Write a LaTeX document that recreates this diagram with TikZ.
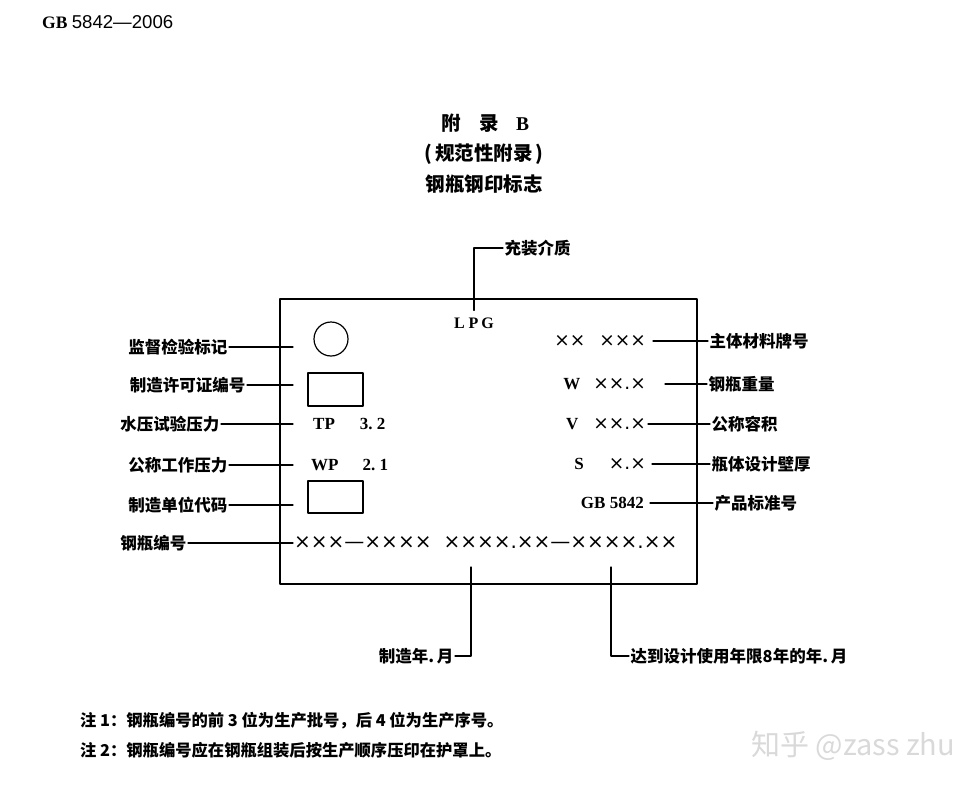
\documentclass[tikz,border=0pt]{standalone}
\usepackage{fontspec}
\setmainfont{Liberation Serif}
\newfontfamily\cjk{Noto Sans CJK SC}
\newfontfamily\xfont{DejaVu Sans}
\newfontfamily\hdsans{Liberation Sans}
\usetikzlibrary{positioning}

\tikzset{
  lbl/.style={font=\cjk\bfseries\fontsize{16.5}{18}\selectfont, inner sep=1.5pt},
  stamp/.style={font=\bfseries\fontsize{17}{18}\selectfont, inner sep=0pt},
  lead/.style={line width=1.1pt},
  note/.style={font=\cjk\bfseries\fontsize{16.3}{17}\selectfont, inner sep=0pt, anchor=west},
}
\newcommand{\xx}[1]{{\xfont\fontsize{18.5}{20}\selectfont #1}}

\begin{document}
\begin{tikzpicture}[x=1pt, y=-1pt, line cap=round, line join=round]
		\useasboundingbox (0,0) rectangle (980,787);
		\node[anchor=west, inner sep=0, font=\fontsize{17.5}{18}\selectfont] (std) at (42,22) {{\bfseries GB} {\hdsans\fontsize{18.6}{19}\selectfont 5842—2006}};
		% title
		\node[font=\cjk\bfseries\fontsize{19.5}{21}\selectfont] (app) at (485,123) {附\hspace{19pt}录\hspace{17pt}{\rmfamily\bfseries B}};
		\node[font=\cjk\bfseries\fontsize{19.5}{21}\selectfont] (kind) at (484,154) {(\,规范性附录\,)};
		\node[font=\cjk\bfseries\fontsize{19.5}{21}\selectfont] (ttl) at (484,184) {钢瓶钢印标志};
		% stamp area
		\draw[line width=1.2pt] (280,299) rectangle (697,584);
		\coordinate (lend) at (293,0);
		\coordinate (mfgtop) at (471,567);
		\coordinate (exptop) at (611,567);
		\node[stamp, font=\bfseries\fontsize{16}{18}\selectfont] (lpg) at (474,323) {L\hspace{4pt}P\hspace{3pt}G};
		\node[lbl, anchor=west] (lfill) at (503,248) {充装介质};
		\draw[lead] (lfill.west) -| ([yshift=7pt]lpg.north);
		% left column
		\node[circle, draw, line width=1.2pt, minimum size=34pt] (mark) at (331,339) {};
		\node[draw, line width=1.3pt, minimum width=55pt, minimum height=33pt] (permit) at (335.5,389.5) {};
		\node[stamp, anchor=west] (tp) at (313,424) {TP\hspace{25pt}3.\ 2};
		\node[stamp, anchor=west] (wp) at (311,465) {WP\hspace{24pt}2.\ 1};
		\node[draw, line width=1.3pt, minimum width=55pt, minimum height=32pt] (code) at (335.5,497) {};
		\node[anchor=west, inner sep=0] (serial) at (294,543) {{\xfont\fontsize{20}{20}\selectfont ×××—××××\hspace{12pt}××××.××—××××.××}};
		\node[lbl, anchor=east] (lmark) at (229,347) {监督检验标记};
		\node[lbl, anchor=east] (lpermit) at (247,385) {制造许可证编号};
		\node[lbl, anchor=east] (ltp) at (221,424) {水压试验压力};
		\node[lbl, anchor=east] (lwp) at (229,465) {公称工作压力};
		\node[lbl, anchor=east] (lcode) at (229,505) {制造单位代码};
		\node[lbl, anchor=east] (lserial) at (188,543) {钢瓶编号};
		\foreach \n in {lmark,lpermit,ltp,lwp,lcode,lserial}
			\draw[lead] (\n.east) -- (\n.east -| lend);
		% right column
		\node[anchor=east, inner sep=0] (mat) at (646,341) {\xx{××\hspace{14pt}×××}};
		\node[anchor=east, inner sep=0] (wt) at (646,384) {{\bfseries\fontsize{17}{18}\selectfont W}\hspace{13pt}\xx{××.×}};
		\node[anchor=east, inner sep=0] (vol) at (646,424) {{\bfseries\fontsize{17}{18}\selectfont V}\hspace{15pt}\xx{××.×}};
		\node[anchor=east, inner sep=0] (wall) at (646,464) {{\bfseries\fontsize{17}{18}\selectfont S}\hspace{25pt}\xx{×.×}};
		\node[stamp, anchor=east] (gbno) at (644,503) {GB\ 5842};
		\node[lbl, anchor=west] (lmat) at (708,341) {主体材料牌号};
		\node[lbl, anchor=west] (lwt) at (707,384) {钢瓶重量};
		\node[lbl, anchor=west] (lvol) at (710,424) {公称容积};
		\node[lbl, anchor=west] (lwall) at (710,464) {瓶体设计壁厚};
		\node[lbl, anchor=west] (lgbno) at (713,503) {产品标准号};
		\draw[lead, shorten <=7pt] (mat.east) -- (lmat.west);
		\draw[lead, shorten <=19pt] (wt.east) -- (lwt.west);
		\draw[lead, shorten <=2pt] (vol.east) -- (lvol.west);
		\draw[lead, shorten <=6pt] (wall.east) -- (lwall.west);
		\draw[lead, shorten <=6pt] (gbno.east) -- (lgbno.west);
		% bottom
		\node[lbl, anchor=east] (lmfg) at (455,656) {制造年.\,月};
		\node[lbl, anchor=west] (lexp) at (629,656) {达到设计使用年限8年的年.\,月};
		\draw[lead] (lmfg.east) -| (mfgtop);
		\draw[lead] (lexp.west) -| (exptop);
		% notes
		\node[note] (note1) at (80,721) {注 1：钢瓶编号的前 3 位为生产批号，后 4 位为生产序号。};
		\node[note] (note2) at (80,750) {注 2：钢瓶编号应在钢瓶组装后按生产顺序压印在护罩上。};
		\node[anchor=west, inner sep=0, text=gray!30, font=\cjk\fontsize{29}{30}\selectfont] (wm) at (751,746) {知乎 @zass zhu};
	\end{tikzpicture}
\end{document}
